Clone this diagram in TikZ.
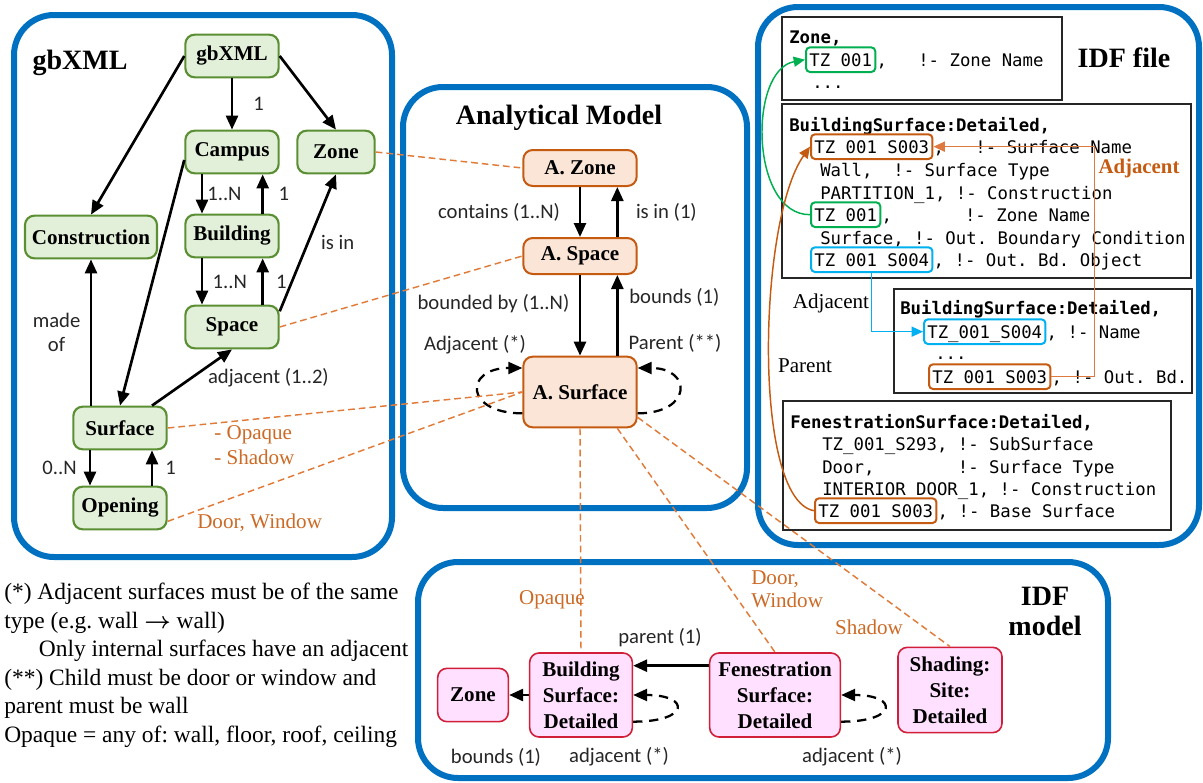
\documentclass[tikz,border=0pt]{standalone}
\usepackage{fontspec}
\setmainfont{Liberation Serif}
\setsansfont{Carlito}
\setmonofont{DejaVu Sans Mono}
\usetikzlibrary{positioning,arrows.meta}

\definecolor{panelblue}{HTML}{0070C0}
\definecolor{gfill}{HTML}{E2F0D9}
\definecolor{gdraw}{HTML}{5A8F32}
\definecolor{ofill}{HTML}{FBE5D6}
\definecolor{odraw}{HTML}{C55A11}
\definecolor{pfill}{HTML}{FFE0FF}
\definecolor{pdraw}{HTML}{D11F3A}
\definecolor{dashorange}{HTML}{E07B39}
\definecolor{txtorange}{HTML}{CC6A26}
\definecolor{tokgreen}{HTML}{00B050}
\definecolor{tokcyan}{HTML}{00B0F0}
\definecolor{linkorange}{HTML}{DE7A40}

\tikzset{
	panel/.style={draw=panelblue, line width=4.5pt, rounded corners=30pt},
	ent/.style={rectangle, rounded corners=7pt, line width=1.6pt, align=center, font=\fontsize{15.8}{19.5}\selectfont\bfseries},
	gnode/.style={ent, draw=gdraw, fill=gfill, minimum width=70pt, minimum height=32pt},
	onode/.style={ent, draw=odraw, fill=ofill, line width=1.5pt, minimum width=85pt, minimum height=27pt},
	pnode/.style={ent, draw=pdraw, fill=pfill, line width=1.2pt},
	arr/.style={-{Triangle[length=10.5pt,width=9pt]}, line width=2pt},
	loopd/.style={arr, line width=1.7pt, dash pattern=on 7pt off 5pt},
	odash/.style={draw=dashorange, line width=1.1pt, dash pattern=on 5pt off 3pt},
	lbl/.style={font=\sffamily\fontsize{15.5}{18}\selectfont, text=black!85, inner sep=1pt, align=center},
	olbl/.style={font=\fontsize{15.8}{18.5}\selectfont, text=txtorange, inner sep=0pt, align=left},
	ttl/.style={font=\fontsize{21}{26}\selectfont\bfseries, align=center},
	codebox/.style={draw=black!85, line width=0.8pt},
	codeln/.style={font=\ttfamily\fontsize{13}{16}\selectfont, inner sep=0pt, anchor=base west},
	tok/.style={codeln, draw=#1, line width=1.5pt, rounded corners=3pt, inner xsep=2.5pt, inner ysep=4.5pt, text height=9.5pt, text depth=0pt},
	link/.style={line width=1.1pt, -{Triangle[length=8.5pt,width=7.5pt]}},
}

\begin{document}
\frenchspacing
\begin{tikzpicture}[x=0.75pt,y=-0.75pt]
	\useasboundingbox (0,0) rectangle (1203,782);

	% panels
	\draw[panel] (14,15) rectangle (392,557);
	\draw[panel] (403,87) rectangle (747,508);
	\draw[panel] (758,7) rectangle (1199,545);
	\draw[panel] (418,562) rectangle (1108,778);

	\node[ttl] (tgb) at (80,63) {gbXML};
	\node[ttl] (tam) at (559,118) {Analytical Model};
	\node[ttl] (tidf) at (1124,58) {IDF file};
	\node[ttl, font=\fontsize{21}{22.5}\selectfont\bfseries] (tidm) at (1045,611) {IDF\\model};

	% gbXML
	\node[gnode] (gbxml) at (232,56) {gbXML};
	\node[gnode] (campus) at (232,152) {Campus};
	\node[gnode, minimum width=58pt] (zone) at (336,152) {Zone};
	\node[gnode, minimum width=99pt] (constr) at (91,237) {Construction};
	\node[gnode] (building) at (232,236) {Building};
	\node[gnode] (space) at (232,327) {Space};
	\node[gnode] (surface) at (120,428) {Surface};
	\node[gnode] (opening) at (120,508) {Opening};

	\draw[arr] (gbxml) -- node[lbl, right=14pt] (l1) {1} (campus);
	\draw[arr] (gbxml.west) -- (constr.north);
	\draw[arr] (gbxml.east) -- (zone.north);
	\draw[arr] ([xshift=-22.5pt]campus.south) -- node[lbl, right=2pt] (l2) {1..N} ([xshift=-22.5pt]building.north);
	\draw[arr] ([xshift=23pt]building.north) -- node[lbl, right=10pt] (l3) {1} ([xshift=23pt]campus.south);
	\draw[arr] ([xshift=-22.5pt]building.south) -- node[lbl, right=6pt] (l4) {1..N} ([xshift=-22.5pt]space.north);
	\draw[arr] ([xshift=23pt]space.north) -- node[lbl, right=8pt] (l5) {1} ([xshift=23pt]building.south);
	\draw[arr] ([yshift=-5pt]space.north east) -- node[lbl, right=8pt] (l6) {is in} (zone.south);
	\draw[arr] ([yshift=-6pt]campus.west) -- (surface.north);
	\draw[arr] (constr.south |- surface.north) -- node[lbl, left=6pt] (l7) {made\\of} (constr.south);
	\draw[arr] ([xshift=24pt]surface.north) -- node[lbl, right=10pt] (l8) {adjacent (1..2)} (space.south);
	\draw[arr] ([xshift=-22.5pt]surface.south) -- node[lbl, left=8pt] (l9) {0..N} ([xshift=-22.5pt]opening.north);
	\draw[arr] ([xshift=24pt]opening.north) -- node[lbl, right=8pt] (l10) {1} ([xshift=24pt]surface.south);

	% analytical model
	\node[onode] (azone) at (580,168) {A. Zone};
	\node[onode] (aspace) at (580,256) {A. Space};
	\node[onode, minimum height=53pt] (asurf) at (580,392) {A. Surface};

	\draw[arr] (azone) -- node[lbl, left=13pt] (l11) {contains (1..N)} (aspace);
	\draw[arr] ([xshift=28pt]aspace.north) -- node[lbl, right=12pt] (l12) {is in (1)} ([xshift=28pt]azone.south);
	\draw[arr] (aspace) -- node[lbl, left=6pt, pos=0.35] (l13) {bounded by (1..N)} (asurf);
	\draw[arr] ([xshift=28pt]asurf.north) -- node[lbl, right=7pt, pos=0.72] (l14) {bounds (1)} ([xshift=28pt]aspace.south);
	\node[lbl] (l15) at (475,345) {Adjacent (*)};
	\node[lbl] (l16) at (675,343) {Parent (**)};
	\draw[loopd] ([yshift=-16pt]asurf.west) to[out=180, in=180, looseness=3.3] ([yshift=18pt]asurf.west);
	\draw[loopd] ([yshift=-16pt]asurf.east) to[out=0, in=0, looseness=3.1] ([yshift=18pt]asurf.east);

	% IDF model
	\node[pnode, minimum width=53pt, minimum height=40pt] (zone2) at (473,695) {Zone};
	\node[pnode, minimum width=77pt, minimum height=63pt] (bsd) at (581,695) {Building\\Surface:\\Detailed};
	\node[pnode, minimum width=98pt, minimum height=63pt] (fsd) at (775,695) {Fenestration\\Surface:\\Detailed};
	\node[pnode, minimum width=78pt, minimum height=64pt] (shading) at (950,690) {Shading:\\Site:\\Detailed};

	\draw[arr] (bsd.west) -- (zone2.east);
	\draw[arr] ([yshift=22pt]fsd.west) -- ([yshift=22pt]bsd.east);
	\draw[loopd] ([yshift=-20pt]bsd.east) to[out=0, in=0, looseness=5.5] (bsd.east);
	\draw[loopd] ([yshift=-20pt]fsd.east) to[out=0, in=0, looseness=5.5] (fsd.east);
	\node[lbl] (l17) at (660,638) {parent (1)};
	\node[lbl] (l18) at (496,757) {bounds (1)};
	\node[lbl] (l19) at (619,757) {adjacent (*)};
	\node[lbl] (l20) at (852,757) {adjacent (*)};

	% mappings
	\draw[odash] (zone.east) -- (azone.west);
	\draw[odash] (space.east) -- (aspace.west);
	\draw[odash] (surface.east) -- (asurf.west);
	\draw[odash] ([yshift=-10pt]opening.east) -- (asurf.west);
	\draw[odash] (asurf.south) -- (bsd.north);
	\draw[odash] ([xshift=28pt]asurf.south) -- (fsd.north);
	\draw[odash] ([yshift=-19pt]asurf.east) -- (shading.north);
	\node[olbl, anchor=west] (m1) at (214,445) {- Opaque\\- Shadow};
	\node[olbl, anchor=west] (m2) at (197,523) {Door, Window};
	\node[olbl] (m3) at (552,600) {Opaque};
	\node[olbl, anchor=west, font=\fontsize{15.8}{17.5}\selectfont] (m4) at (751,589) {Door,\\Window};
	\node[olbl] (m5) at (869,627) {Shadow};

	% IDF file
	\draw[codebox] (782,17) rectangle (1062,100);
	\draw[codebox] (782,104) rectangle (1191,278);
	\draw[codebox] (894,289) rectangle (1192,393);
	\draw[codebox] (783,401) rectangle (1171,530);

	\node[codeln] (c1) at (789,43) {\bfseries Zone,};
	\node[tok=tokgreen] (z1) at (805,66) {TZ 001};
	\node[codeln] (c2) at (z1.base east) {,\ \ \ !- Zone Name};
	\node[codeln] (c3) at (812,88) {...};

	\node[codeln] (c4) at (789,131) {\bfseries BuildingSurface:Detailed,};
	\node[tok=odraw] (s003a) at (810,153) {TZ 001 S003};
	\node[codeln] (c5) at (s003a.base east) {,\ \ \ !- Surface Name};
	\node[codeln] (c6) at (820,176) {Wall,\ \ !- Surface Type};
	\node[codeln] (c7) at (820,199) {PARTITION\_1, !- Construction};
	\node[tok=tokgreen] (z2) at (810,221) {TZ 001};
	\node[codeln] (c8) at (z2.base east) {,\ \ \ \ \ \ \ !- Zone Name};
	\node[codeln] (c9) at (820,244) {Surface, !- Out. Boundary Condition};
	\node[tok=tokcyan] (s004a) at (810,266) {TZ 001 S004};
	\node[codeln] (c10) at (s004a.base east) {, !- Out. Bd. Object};

	\node[codeln] (c11) at (900,314) {\bfseries BuildingSurface:Detailed,};
	\node[tok=tokcyan] (s004b) at (923,338) {TZ\_001\_S004};
	\node[codeln] (c12) at (s004b.base east) {, !- Name};
	\node[codeln] (c13) at (935,359) {...};
	\node[tok=odraw] (s003b) at (928,383) {TZ 001 S003};
	\node[codeln] (c14) at (s003b.base east) {, !- Out. Bd.};

	\node[codeln] (c15) at (790,428) {\bfseries FenestrationSurface:Detailed,};
	\node[codeln] (c16) at (822,450) {TZ\_001\_S293, !- SubSurface};
	\node[codeln] (c17) at (822,473) {Door,\ \ \ \ \ \ \ \ !- Surface Type};
	\node[codeln] (c18) at (822,495) {INTERIOR DOOR\_1, !- Construction};
	\node[tok=odraw] (s003c) at (814,517) {TZ 001 S003};
	\node[codeln] (c19) at (s003c.base east) {, !- Base Surface};

	\draw[link, tokgreen] (z2.west) .. controls (750,215) and (748,70) .. (z1.west);
	\draw[link, odraw] (s003c.west) .. controls (752,500) and (758,220) .. (s003a.west);
	\draw[link, linkorange] (s003b.east) -- ++(43,0) |- (s003a.east);
	\draw[link, tokcyan] (s004a.south) |- (s004b.west);
	\node[font=\fontsize{15.6}{18}\selectfont\bfseries, text=odraw] (adjo) at (1139,168) {Adjacent};
	\node[font=\fontsize{15.8}{18}\selectfont] (adjb) at (831,303) {Adjacent};
	\node[font=\fontsize{15.8}{18}\selectfont] (par) at (805,366) {Parent};

	% notes
	\node[anchor=north west, align=left, inner sep=0pt, font=\fontsize{17.6}{21.4}\selectfont] (notes) at (4,583) {(*) Adjacent surfaces must be of the same\\
		type (e.g. wall {\boldmath$\rightarrow$} wall)\\
		\hspace*{26pt}Only internal surfaces have an adjacent\\
		(**) Child must be door or window and\\
		parent must be wall\\
		Opaque = any of: wall, floor, roof, ceiling};
\end{tikzpicture}
\end{document}
